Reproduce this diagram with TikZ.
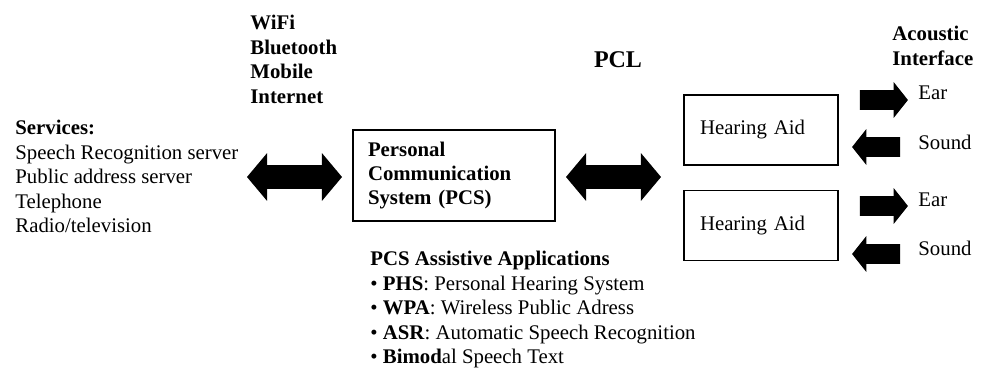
\documentclass[tikz,border=0pt]{standalone}
\usepackage{fontspec}
\setmainfont{Liberation Serif}
\usetikzlibrary{shapes.arrows,positioning}

\begin{document}
\begin{tikzpicture}[x=0.5pt,y=-0.5pt,
    box/.style = {draw, line width=0.6pt, inner xsep=7.5pt, align=left, font=\fontsize{10.4}{12.2}\selectfont},
    label/.style = {inner sep=0pt, align=left, font=\fontsize{10.4}{12.2}\selectfont},
    heading/.style = {label, font=\fontsize{10.4}{12.2}\selectfont\bfseries},
    link/.style = {double arrow, fill=black, inner sep=0pt, inner ysep=5.75pt, double arrow head extend=6pt, double arrow tip angle=100, minimum height=47.5pt},
    port/.style = {single arrow, fill=black, inner sep=0pt, inner ysep=4.75pt, single arrow head extend=4pt, single arrow tip angle=103, minimum height=24pt},
    back/.style = {port, shape border rotate=180}
    ]
    \useasboundingbox (0,0) rectangle (987,371);

    \node[label, anchor=north west] (services) at (15,120) {\textbf{Services:}\\Speech Recognition server\\Public address server\\Telephone\\Radio/television};
    \node[heading, anchor=north west] (networks) at (250,15) {WiFi\\Bluetooth\\Mobile\\Internet};
    \node[link] (wireless) at (294.5,177) {};

    \node[box, font=\fontsize{10.4}{12.2}\selectfont\bfseries, minimum width=101pt, minimum height=45.5pt, text width=86pt] (pcs) at (454,175.5) {Personal\\Communication\\System (PCS)};
    \node[label, anchor=north west] (apps) at (370,251) {\textbf{PCS Assistive Applications}\\%
        • \textbf{PHS}: Personal Hearing System\\%
        • \textbf{WPA}: Wireless Public Adress\\%
        • \textbf{ASR}: Automatic Speech Recognition\\%
        • \textbf{Bimod}al Speech Text};

    \node[label, font=\fontsize{12}{14}\selectfont\bfseries] (pcl) at (618,60) {PCL};
    \node[link] (pcl link) at (613.5,177) {};

    \node[box, inner xsep=8pt, text width=61pt, minimum height=35pt] (aid1) at (761,130) {Hearing Aid};
    \node[box, inner xsep=8pt, text width=61pt, minimum height=35pt, below=12pt of aid1] (aid2) {Hearing Aid};

    \node[heading, anchor=north west] (acoustic) at (892,26) {Acoustic\\Interface};
    \node[port] (ear1) at (880,100) {};
    \node[back] (sound1) at (880,147) {};
    \node[port] (ear2) at (880,206) {};
    \node[back] (sound2) at (880,254) {};
    \node[label, anchor=west] (ear1 text) at (918,93) {Ear};
    \node[label, anchor=west] (sound1 text) at (918,142) {Sound};
    \node[label, anchor=west] (ear2 text) at (918,200) {Ear};
    \node[label, anchor=west] (sound2 text) at (918,248) {Sound};
\end{tikzpicture}
\end{document}
